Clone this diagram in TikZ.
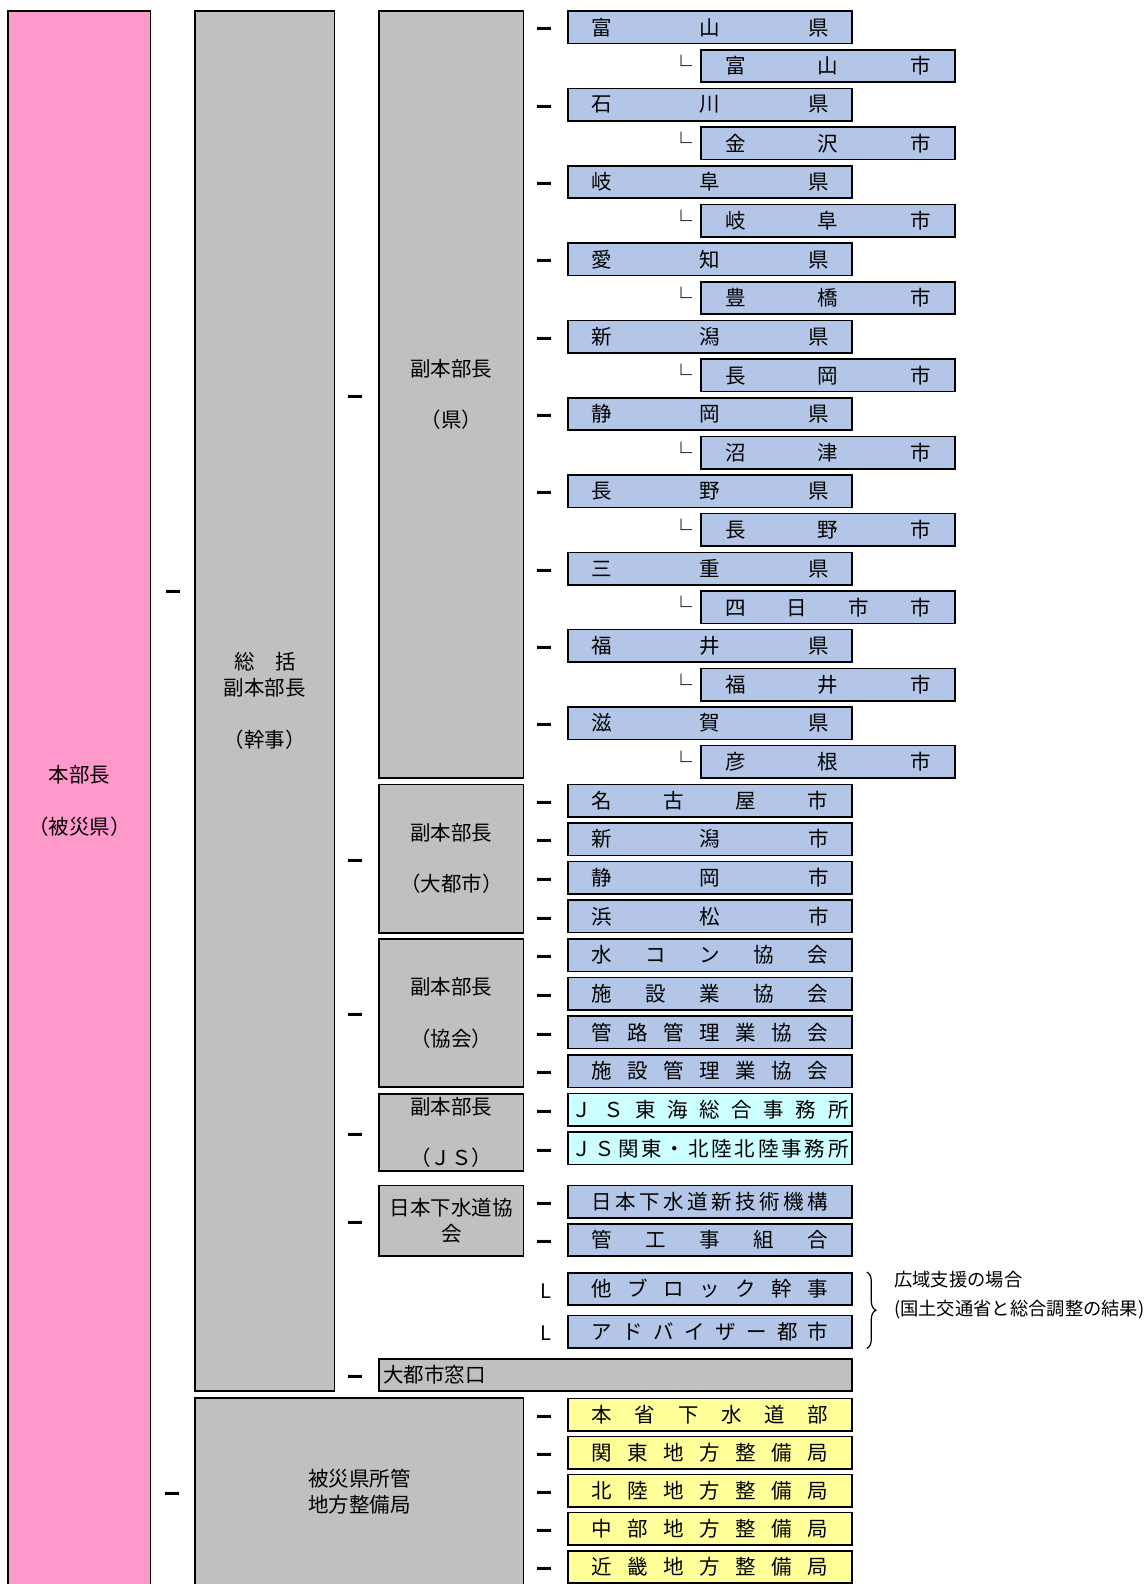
\documentclass[tikz,border=0pt]{standalone}
\usepackage{fontspec}
\newfontfamily\cjk{Noto Sans CJK JP}
\usepackage{tikz}
\usetikzlibrary{positioning,calc,decorations.pathreplacing}
\definecolor{bupink}{HTML}{FF99CC}
\definecolor{bugray}{HTML}{C0C0C0}
\definecolor{bublue}{HTML}{B4C6E7}
\definecolor{bucyan}{HTML}{CCFFFF}
\definecolor{buyellow}{HTML}{FFFF99}
\newcommand\spreadtext[2]{\makebox[#1][s]{\expandafter\spreadloop#2\relax}}
\def\spreadloop#1#2{#1\ifx\relax#2\else\hfill\expandafter\spreadloop\expandafter#2\fi}
\begin{document}
\begin{tikzpicture}[x=1pt,y=-1pt]
\tikzset{every node/.style={font=\cjk\fontsize{20.5}{26}\selectfont}}
\tikzset{box/.style={draw, line width=1.6pt, inner sep=0pt}}
\tikzset{pref/.style={box, fill=bublue, minimum width=284pt, minimum height=32.4pt}}
\tikzset{city/.style={pref, minimum width=254pt}}
\tikzset{jsbox/.style={pref, fill=bucyan}}
\tikzset{mlit/.style={pref, fill=buyellow}}
\tikzset{head/.style={box, fill=bugray, minimum width=144.5pt, align=center}}
\tikzset{tick/.style={inner sep=0pt, yshift=-4.5pt, font=\cjk\bfseries\fontsize{17}{17}\selectfont}}
\tikzset{corner/.style={inner sep=0pt, yshift=-2pt, font=\cjk\fontsize{20}{20}\selectfont}}
\tikzset{note/.style={inner sep=0pt, align=left, font=\cjk\fontsize{18.3}{29.5}\selectfont}}
\clip (0,0) rectangle (1146,1584);
\node[box, fill=bupink, minimum width=142.6pt, minimum height=1580pt, align=center] (chief) at (79.3,801) {本部長\\[25.5pt]（被災県）};
\node[head, minimum width=139.5pt, minimum height=1380pt] (deputy) at (264.75,701) {総　括\\副本部長\\[25.5pt]（幹事）};
\node[head, minimum height=766.9pt] (vken) at (451.25,394.55) {副本部長\\[25.5pt]（県）};
\node[head, minimum height=148.4pt] (vcity) at (451.25,858.5) {副本部長\\[25.5pt]（大都市）};
\node[head, minimum height=148pt] (vassoc) at (451.25,1013) {副本部長\\[25.5pt]（協会）};
\node[head, minimum height=77pt] (vjs) at (451.25,1132.5) {副本部長\\[25.5pt]（ＪＳ）};
\node[head, minimum height=70.6pt] (jswa) at (451.25,1220.7) {日本下水道協\\会};
\node[box, fill=bugray, minimum width=473pt, minimum height=32pt, text width=465pt, align=left] (window) at (615.5,1375) {大都市窓口};
\node[head, minimum width=328.5pt, minimum height=188pt] (bureau) at (359.25,1492) {被災県所管\\地方整備局};
\node[tick] (t1) at (173,590) {ー};
\node[tick] (t2) at ($(bureau.west)+(-22,0)$) {ー};
\foreach \g in {vken,vcity,vassoc,vjs,jswa,window}
  \node[tick] (t\g) at ($(\g.west)+(-23,0)$) {ー};
\foreach \pr/\ct [count=\i] in {富山県/富山市,石川県/金沢市,岐阜県/岐阜市,愛知県/豊橋市,新潟県/長岡市,静岡県/沼津市,長野県/長野市,三重県/四日市市,福井県/福井市,滋賀県/彦根市}{
  \node[pref] (pref\i) at (710,{27.3+77.32*(\i-1)}) {\spreadtext{237pt}{\pr}};
  \node[city] (city\i) at (828,{65.96+77.32*(\i-1)}) {\spreadtext{206pt}{\ct}};
  \node[tick] (tp\i) at ($(pref\i.west)+(-23,0)$) {ー};
  \node[corner, font=\cjk\bfseries\fontsize{22}{22}\selectfont] (tc\i) at ($(city\i.west)+(-19,-3)$) {└};
}
\foreach \nm [count=\i from 20] in {名古屋市,新潟市,静岡市,浜松市,水コン協会,施設業協会,管路管理業協会,施設管理業協会}{
  \node[pref] (mid\i) at (710,{27.3+38.66*\i}) {\spreadtext{237pt}{\nm}};
  \node[tick] (tm\i) at ($(mid\i.west)+(-23,0)$) {ー};
}
\foreach \nm [count=\i from 28] in {ＪＳ東海総合事務所,ＪＳ関東・北陸北陸事務所}{
  \node[jsbox] (js\i) at (710,{27.3+38.66*\i}) {\spreadtext{277pt}{\nm}};
  \node[tick] (tj\i) at ($(js\i.west)+(-23,0)$) {ー};
}
\foreach \nm/\y [count=\i] in {日本下水道新技術機構/1201.6,管工事組合/1240}{
  \node[pref] (tech\i) at (710,\y) {\spreadtext{237pt}{\nm}};
  \node[tick] (tt\i) at ($(tech\i.west)+(-23,0)$) {ー};
}
\foreach \nm/\y [count=\i] in {他ブロック幹事/1289,アドバイザー都市/1331.5}{
  \node[pref] (other\i) at (710,\y) {\spreadtext{237pt}{\nm}};
  \node[corner] (tl\i) at ($(other\i.west)+(-21,0)$) {L};
}
\foreach \nm [count=\i from 0] in {本省下水道部,関東地方整備局,北陸地方整備局,中部地方整備局,近畿地方整備局}{
  \node[mlit] (mlit\i) at (710,{1414.5+38.1*\i}) {\spreadtext{237pt}{\nm}};
  \node[tick] (ty\i) at ($(mlit\i.west)+(-23,0)$) {ー};
}
\coordinate (bracetop) at ($(other1.north east)+(14,0)$);
\coordinate (bracebot) at ($(other2.south east)+(14,0)$);
\draw[line width=1.2pt, decorate, decoration={brace, amplitude=9pt}] (bracetop) -- (bracebot);
\node[note, anchor=west] (wide) at (894,1295) {広域支援の場合\\(国土交通省と総合調整の結果)};
\end{tikzpicture}
\end{document}
